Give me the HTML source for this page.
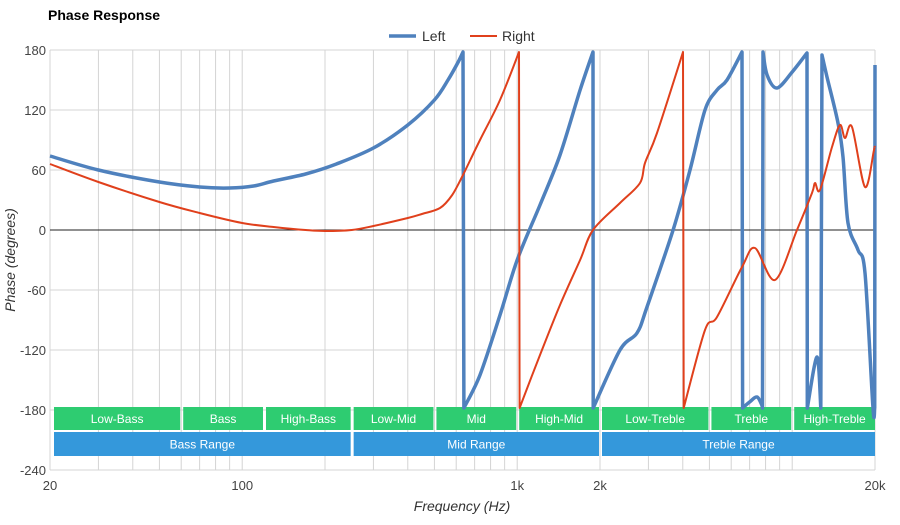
<!DOCTYPE html>
<html><head><meta charset="utf-8"><style>
body{margin:0;background:#fff;font-family:"Liberation Sans",sans-serif}
svg text{font-family:"Liberation Sans",sans-serif}
</style></head><body>
<svg id="chart" width="900" height="520">
<text x="48" y="20" font-size="14" font-weight="bold" fill="#000">Phase Response</text>
<g id="grid"></g>
<g id="bands"></g>
<g id="series"></g>
<g>
<g><line x1="389" y1="36" x2="416" y2="36" stroke="#4f81bd" stroke-width="3.5"/><text x="422" y="41" font-size="14" fill="#333">Left</text></g>
<g><line x1="470" y1="36" x2="497" y2="36" stroke="#e0401c" stroke-width="2"/><text x="502" y="41" font-size="14" fill="#333">Right</text></g>
</g>
<text x="462" y="511" font-size="14" font-style="italic" fill="#333" text-anchor="middle">Frequency (Hz)</text>
<text transform="translate(15,260) rotate(-90)" font-size="14" font-style="italic" fill="#333" text-anchor="middle">Phase (degrees)</text>
</svg>
<script>
const yTicks=[180,120,60,0,-60,-120,-180,-240];
const xTickLabels=[[20,"20"],[100,"100"],[1000,"1k"],[2000,"2k"],[20000,"20k"]];
const leftFreq=[20,30,50,70,90,110,130,170,220,300,400,500,560,610,635,640,732,866,1000,1210,1431,1693,1886,1890,2364,2727,2964,3687,4250,4818,5329,5792,6568,6600,7000,7448,7750,7800,7830,8100,8802,10000,11314,11350,12306,12700,12832,13382,14676,15302,15956,17350,18390,19666,19950,20000];
const leftPhase=[74,60,48,43,42,44,49,56,66,82,105,130,150,168,178,-178,-145,-85,-30,25,75,140,178,-178,-120,-103,-77,0,60,120,140,150,178,-178,-172,-167,-175,-178,178,155,142,158,177,-178,-127,-178,175,153,107,73,7,-20,-43,-178,-178,165];
const rightFreq=[20,30,50,70,100,130,170,200,250,300,400,450,524,580,635,732,866,1015,1020,1210,1431,1693,1886,2364,2796,2915,3224,4008,4030,4818,5329,6568,7324,8658,10410,11802,12102,12619,13950,14918,15560,16502,18390,19836,20000];
const rightPhase=[66,48,28,17,7,3,0,-1,0,4,12,16,22,35,55,90,130,178,-178,-125,-75,-30,0,27,47,67,97,178,-178,-100,-87,-37,-18,-50,0,37,47,40,83,105,92,103,43,80,82];
const bandNames=["Low-Bass","Bass","High-Bass","Low-Mid","Mid","High-Mid","Low-Treble","Treble","High-Treble"];
const bandEdges=[20,60,120,250,500,1000,2000,5000,10000,20000];
const rangeNames=["Bass Range","Mid Range","Treble Range"];
const rangeEdges=[20,250,2000,20000];
const X0=50,X1=875,Y0=50,Y1=470;
const xs=f=>X0+(X1-X0)*Math.log10(f/20)/3;
const ys=v=>Y0+(180-v)*(Y1-Y0)/420;
const NS="http://www.w3.org/2000/svg";
function mk(t,a,p){const e=document.createElementNS(NS,t);for(const k in a)e.setAttribute(k,a[k]);p.appendChild(e);return e;}
const grid=document.getElementById('grid');
const gf=[];[10,100,1000,10000].forEach(d=>{for(let m=1;m<10;m++){const f=d*m;if(f>=20&&f<=20000)gf.push(f);}});gf.push(20000);
gf.forEach(f=>{const l=mk('line',{x1:xs(f),x2:xs(f),y1:Y0,y2:Y1,stroke:'#d4d4d4','stroke-width':1},grid);

});
yTicks.forEach(v=>{const l=mk('line',{x1:X0,x2:X1,y1:ys(v),y2:ys(v),stroke:v===0?'#222':'#d4d4d4','stroke-width':1},grid);


const t=mk('text',{x:X0-4,y:ys(v)+5,'font-size':13,fill:'#444','text-anchor':'end'},grid);t.textContent=v;

});
xTickLabels.forEach(([f,s])=>{const t=mk('text',{x:xs(f),y:Y1+20,'font-size':13,fill:'#444','text-anchor':'middle'},grid);t.textContent=s;

});
const bands=document.getElementById('bands');
function drawBand(names,edges,y,h,col,nm){names.forEach((n,i)=>{const a=xs(edges[i])+(i?2:4),b=xs(edges[i+1])-(i<names.length-1?1:0);
const r=mk('rect',{x:a,y:y,width:b-a,height:h,fill:col},bands);


const t=mk('text',{x:(a+b)/2,y:y+h/2+4.5,'font-size':12,fill:'#fff','text-anchor':'middle'},bands);t.textContent=n;

});}
drawBand(bandNames,bandEdges,407,23,'#2ecc71','band');
drawBand(rangeNames,rangeEdges,432,24,'#3498db','range');
const ser=document.getElementById('series');
function smoothPath(F,P){
  const pts=F.map((f,i)=>[xs(f),ys(P[i])]);
  // split runs at wraps
  const runs=[];let cur=[pts[0]];
  for(let i=1;i<pts.length;i++){if(Math.abs(P[i]-P[i-1])>250){runs.push(cur);cur=[pts[i]];}else cur.push(pts[i]);}
  runs.push(cur);
  let d='';
  runs.forEach((r,ri)=>{
    d+=(ri?'L':'M')+r[0][0].toFixed(1)+','+r[0][1].toFixed(1);
    for(let i=0;i<r.length-1;i++){
      const p0=r[Math.max(0,i-1)],p1=r[i],p2=r[i+1],p3=r[Math.min(r.length-1,i+2)];
      const t=0.16;
      let c1x=p1[0]+(p2[0]-p0[0])*t,c1y=p1[1]+(p2[1]-p0[1])*t;
      let c2x=p2[0]-(p3[0]-p1[0])*t,c2y=p2[1]-(p3[1]-p1[1])*t;
      c1x=Math.min(Math.max(c1x,p1[0]),p2[0]);c2x=Math.min(Math.max(c2x,p1[0]),p2[0]);
      d+='C'+c1x.toFixed(1)+','+c1y.toFixed(1)+' '+c2x.toFixed(1)+','+c2y.toFixed(1)+' '+p2[0].toFixed(1)+','+p2[1].toFixed(1);
    }
  });
  return d;
}
function line(F,P,col,w,nm){
const p=mk('path',{d:smoothPath(F,P),fill:'none',stroke:col,'stroke-width':w,'stroke-linejoin':'round'},ser);

}
line(leftFreq,leftPhase,'#4f81bd',3.5,'left-series-line');
line(rightFreq,rightPhase,'#e0401c',2,'right-series-line');
</script>
</body></html>
